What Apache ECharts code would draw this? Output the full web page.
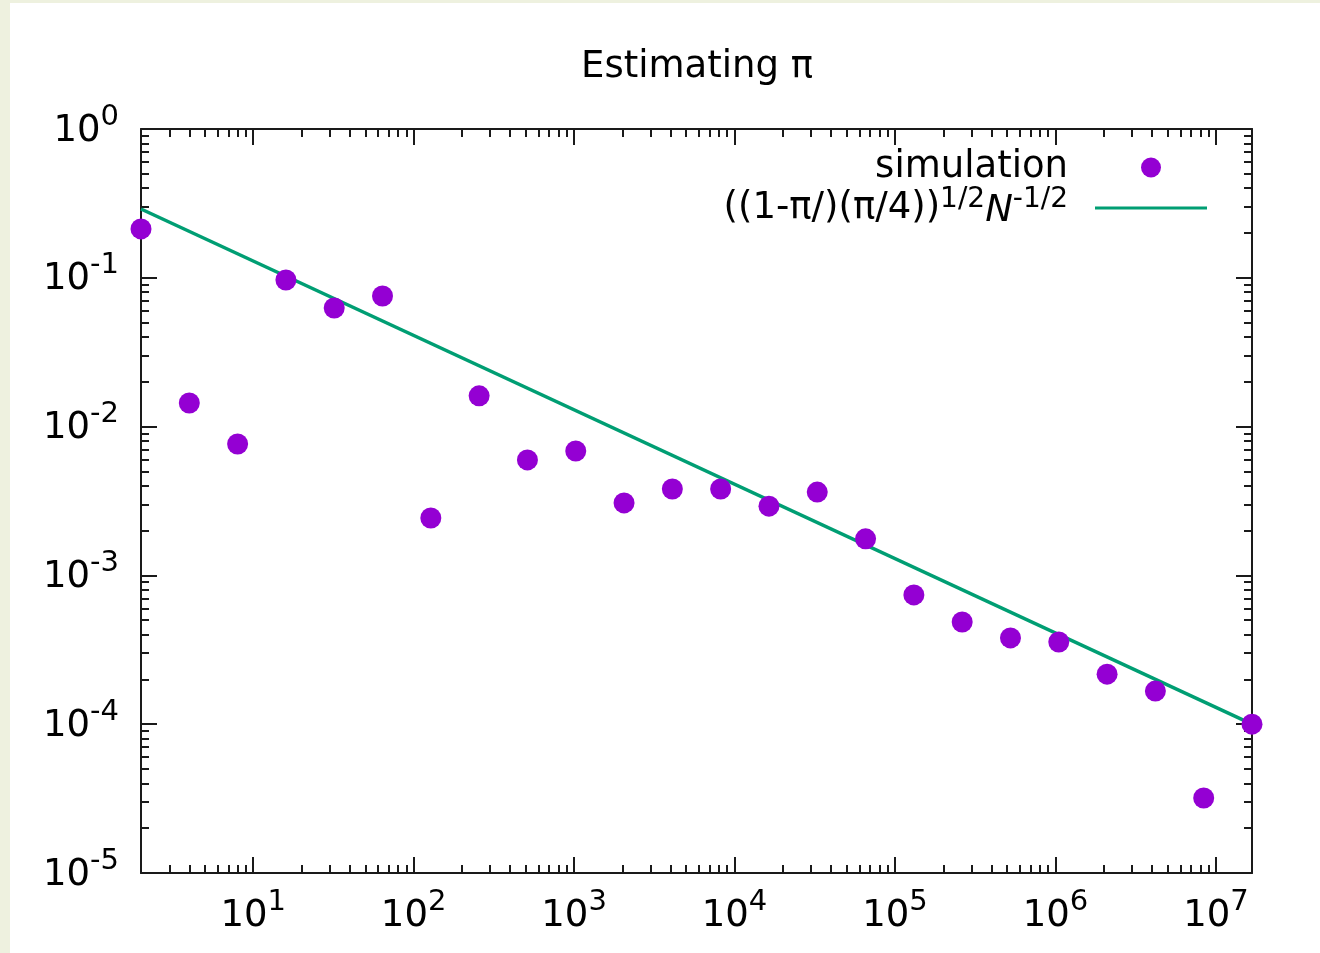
<!DOCTYPE html>
<html>
<head>
<meta charset="utf-8">
<script src="https://cdn.jsdelivr.net/npm/echarts@6/dist/echarts.min.js"></script>
<style>
  html, body { margin: 0; padding: 0; background: #eef1df; }
  #chart { position: absolute; left: 10px; top: 3px; width: 1310px; height: 950px; background: #ffffff; }
</style>
</head>
<body>
<div id="chart"></div>
<script>
// ---- data ----
const sampleN = [2, 4, 8, 16, 32, 64, 128, 256, 512, 1024, 2048, 4096, 8192, 16384, 32768,
  65536, 131072, 262144, 524288, 1048576, 2097152, 4194304, 8388608, 16777216];
const simulationError = [0.213, 0.0144, 0.00764, 0.0967, 0.0627, 0.0755, 0.00243, 0.0161,
  0.00597, 0.00686, 0.00307, 0.00381, 0.00381, 0.00292, 0.00363, 0.00176, 0.000739,
  0.000486, 0.000380, 0.000357, 0.000217, 0.000167, 0.0000319, 0.000100];
const fitN = [2, 16777216];
const fitError = [0.290, 0.000100];

const xMin = 2, xMax = 16777216;
const yMin = 1e-5, yMax = 1;
const xMajorExponents = [1, 2, 3, 4, 5, 6, 7];
const yMajorExponents = [0, -1, -2, -3, -4, -5];
const minorMultipliers = [2, 3, 4, 5, 6, 7, 8, 9];

const titleText = 'Estimating π';
const simName = 'simulation';
const fitName = '((1-π/)(π/4))^{1/2}N^{-1/2}';

// ---- helpers ----
const FONT = 'DejaVu Sans';
const lg = Math.log10;
function minorLogTicks(lo, hi) {
  const out = [];
  for (let d = Math.floor(lg(lo)) - 1; d <= Math.ceil(lg(hi)); d++) {
    minorMultipliers.forEach(m => {
      const v = m * Math.pow(10, d);
      if (v >= lo * 0.9999 && v <= hi * 1.0001) out.push(lg(v));
    });
  }
  return out;
}
const xMinor = minorLogTicks(xMin, xMax);
const yMinor = minorLogTicks(yMin, yMax);

const supRich = {
  b: { fontFamily: FONT, fontSize: 37, lineHeight: 47, verticalAlign: 'bottom', color: '#000' },
  s: { fontFamily: FONT, fontSize: 29, lineHeight: 29, verticalAlign: 'top', color: '#000' }
};
const powLabel = v => '{b|10}{s|' + Math.round(v) + '}';

const lineColor = '#1a1a1a';
function tickAxis(kind, pos, lo, hi, ticks, len, withLine, withLabel, labelTicks) {
  return {
    type: 'value',
    position: pos,
    min: lg(lo), max: lg(hi),
    gridIndex: 0,
    axisLine: { show: withLine, onZero: false, lineStyle: { color: lineColor, width: 2 } },
    axisTick: { show: true, inside: true, length: len, customValues: ticks,
      lineStyle: { color: lineColor, width: 2 } },
    axisLabel: withLabel ? {
      show: true, customValues: labelTicks, formatter: powLabel, rich: supRich,
      margin: kind === 'x' ? 15 : 22,
      padding: kind === 'x' ? 0 : [0, 0, 6, 0]
    } : { show: false },
    splitLine: { show: false },
    axisPointer: { show: false },
    silent: true
  };
}

const chart = echarts.init(document.getElementById('chart'), null, { renderer: 'canvas' });

const legendRich = {
  s: { fontFamily: FONT, fontSize: 28, lineHeight: 28, verticalAlign: 'top', color: '#000' },
  i: { fontFamily: FONT, fontSize: 37, fontStyle: 'italic', lineHeight: 44, verticalAlign: 'bottom', color: '#000' }
};

const option = {
  animation: false,
  backgroundColor: '#ffffff',
  title: {
    text: titleText,
    left: 682, top: 41, textAlign: 'center',
    textStyle: { fontFamily: FONT, fontSize: 37, fontWeight: 'normal', color: '#000' }
  },
  grid: { left: 131, right: 68, top: 126, bottom: 80, containLabel: false },
  legend: [
    {
      data: [simName], orient: 'vertical', align: 'right', right: 159, top: 146,
      padding: 0, itemWidth: 112, itemHeight: 20, icon: 'circle', symbolKeepAspect: true,
      textStyle: { fontFamily: FONT, fontSize: 37, color: '#000', padding: [0, 22, 0, 0] }
    },
    {
      data: [fitName], orient: 'vertical', align: 'right', right: 113, top: 183,
      padding: 0, itemWidth: 112, itemHeight: 20, icon: 'path://M0,0h112v3h-112z', symbolKeepAspect: true,
      formatter: () => '((1-π/)(π/4)){s|1/2}{i|N}{s|-1/2}',
      textStyle: {
        fontFamily: FONT, fontSize: 37, color: '#000', padding: [0, 22, 0, 0],
        rich: legendRich
      }
    }
  ],
  xAxis: [
    { type: 'log', logBase: 10, min: xMin, max: xMax, position: 'bottom',
      axisLine: { show: false }, axisTick: { show: false }, axisLabel: { show: false },
      splitLine: { show: false }, minorTick: { show: false } },
    tickAxis('x', 'bottom', xMin, xMax, xMajorExponents, 16, true, true, xMajorExponents),
    tickAxis('x', 'bottom', xMin, xMax, xMinor, 8, false, false),
    tickAxis('x', 'top', xMin, xMax, xMajorExponents, 16, true, false),
    tickAxis('x', 'top', xMin, xMax, xMinor, 8, false, false)
  ],
  yAxis: [
    { type: 'log', logBase: 10, min: yMin, max: yMax, position: 'left',
      axisLine: { show: false }, axisTick: { show: false }, axisLabel: { show: false },
      splitLine: { show: false }, minorTick: { show: false } },
    tickAxis('y', 'left', yMin, yMax, yMajorExponents, 16, true, true, yMajorExponents),
    tickAxis('y', 'left', yMin, yMax, yMinor, 8, false, false),
    tickAxis('y', 'right', yMin, yMax, yMajorExponents, 16, true, false),
    tickAxis('y', 'right', yMin, yMax, yMinor, 8, false, false)
  ],
  series: [
    {
      name: simName, type: 'scatter', xAxisIndex: 0, yAxisIndex: 0,
      symbol: 'circle', symbolSize: 21,
      itemStyle: { color: '#9400d3', opacity: 1 },
      data: sampleN.map((n, i) => [n, simulationError[i]]),
      z: 3
    },
    {
      name: fitName, type: 'line', xAxisIndex: 0, yAxisIndex: 0,
      showSymbol: false, symbol: 'none',
      lineStyle: { color: '#009e73', width: 3.5 },
      itemStyle: { color: '#009e73' },
      data: fitN.map((n, i) => [n, fitError[i]]),
      z: 2
    }
  ]
};
chart.setOption(option);
</script>
</body>
</html>
